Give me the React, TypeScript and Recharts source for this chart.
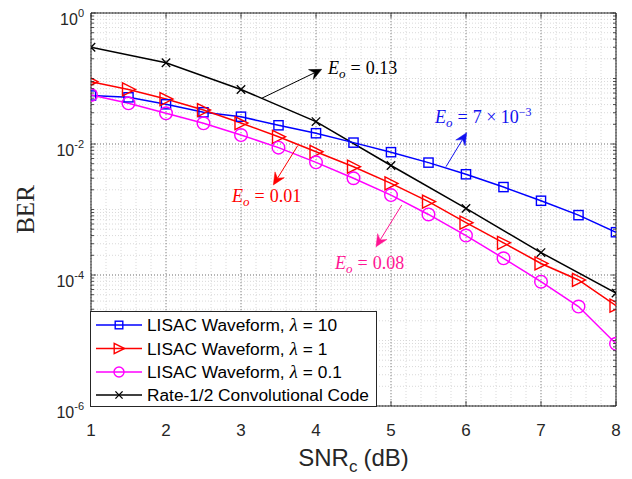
import React from 'react';
import {
  LineChart,
  Line,
  XAxis,
  YAxis,
  CartesianGrid,
  ReferenceLine,
  ReferenceDot,
  Legend,
  Label,
} from 'recharts';

// ---------------- data ----------------
const snr = [1, 1.5, 2, 2.5, 3, 3.5, 4, 4.5, 5, 5.5, 6, 6.5, 7, 7.5, 8];
const berLambda10 = [
  0.055, 0.0516, 0.0404, 0.0305, 0.0261, 0.0193, 0.0146, 0.0105, 0.0075, 0.0052,
  0.00345, 0.0022, 0.00136, 0.00082, 0.00045,
];
const berLambda1 = [
  0.0895, 0.068, 0.0486, 0.033, 0.0209, 0.0129, 0.0076, 0.0045, 0.0025, 0.00132,
  0.00063, 0.00031, 0.00015, 0.000084, 0.000034,
];
const berLambda01 = [
  0.056, 0.0418, 0.0294, 0.0207, 0.0137, 0.0088, 0.00525, 0.003, 0.00166, 0.00084,
  0.0004, 0.00018, 0.000079, 0.000033, 0.0000089,
];
const snrConv = [1, 2, 3, 4, 5, 6, 7, 8];
const berConv = [0.3, 0.174, 0.068, 0.022, 0.0047, 0.00104, 0.00022, 0.000053];

const xMajorTicks = [1, 2, 3, 4, 5, 6, 7, 8];
const yMajorTicks = [1e-6, 1e-4, 1e-2, 1];
const legendLambdas = ['10', '1', '0.1'];

// ---------------- layout constants ----------------
const W = 632;
const H = 479;
const PLOT_LEFT = 91;
const PLOT_RIGHT = 616;
const PLOT_TOP = 13;
const PLOT_BOTTOM = 406;
const AXIS = '#262626';
const BLUE = '#0000FF';
const RED = '#FF0000';
const MAGENTA = '#FF00FF';
const BLACK = '#000000';
const SANS = '"Liberation Sans", Arial, Helvetica, sans-serif';
const SERIF = '"Liberation Serif", "Times New Roman", serif';

// table for the chart
const table = snr.map((x, i) => {
  const ci = snrConv.indexOf(x);
  return {
    snr: x,
    l10: berLambda10[i],
    l1: berLambda1[i],
    l01: berLambda01[i],
    conv: ci >= 0 ? berConv[ci] : null,
  };
});

// ticks (major + minor)
const xTicks: number[] = [];
for (let i = 0; i <= 35; i++) xTicks.push(Math.round((1 + i * 0.2) * 10) / 10);
const yTicks: number[] = [];
for (let d = -6; d <= 0; d++) {
  yTicks.push(Number((10 ** d).toPrecision(3)));
  if (d < 0) for (let k = 2; k <= 9; k++) yTicks.push(Number((k * 10 ** d).toPrecision(3)));
}

// ---------------- markers ----------------
const Square = ({ cx, cy, s = 4.6, c = BLUE }: any) => (
  <rect x={cx - s} y={cy - s} width={2 * s} height={2 * s} fill="none" stroke={c} strokeWidth={1.4} />
);
const Tri = ({ cx, cy, s = 1, c = RED }: any) => (
  <polygon
    points={`${cx - 6 * s},${cy - 6.5 * s} ${cx + 7 * s},${cy} ${cx - 6 * s},${cy + 6.5 * s}`}
    fill="none"
    stroke={c}
    strokeWidth={1.4}
  />
);
const Circ = ({ cx, cy, r = 6.3, c = MAGENTA }: any) => (
  <circle cx={cx} cy={cy} r={r} fill="none" stroke={c} strokeWidth={1.4} />
);
const Cross = ({ cx, cy, s = 4.2, c = BLACK }: any) => (
  <g stroke={c} strokeWidth={1.3}>
    <line x1={cx - s} y1={cy - s} x2={cx + s} y2={cy + s} />
    <line x1={cx - s} y1={cy + s} x2={cx + s} y2={cy - s} />
  </g>
);

const makeDot = (Comp: any) => (p: any) => {
  if (p.value == null || p.cx == null || p.cy == null || isNaN(p.cy)) return <g key={`e-${p.index}`} />;
  return <Comp key={`d-${p.index}`} cx={p.cx} cy={p.cy} />;
};

// ---------------- axis ticks ----------------
const YTick = (props: any) => {
  const { x, y, payload } = props;
  const v = payload.value;
  const e = Math.log10(v);
  const re = Math.round(e);
  const decade = Math.abs(e - re) < 1e-6;
  const labelled = decade && re % 2 === 0;
  const len = labelled ? 5 : 3;
  return (
    <g>
      <line x1={PLOT_LEFT} x2={PLOT_LEFT + len} y1={y} y2={y} stroke={AXIS} strokeWidth={0.8} />
      <line x1={PLOT_RIGHT} x2={PLOT_RIGHT - len} y1={y} y2={y} stroke={AXIS} strokeWidth={0.8} />
      {labelled && (
        <text x={x - 7} y={y + 11.5} textAnchor="end" fontFamily={SANS} fontSize={16} fill={AXIS}>
          <tspan>10</tspan>
          <tspan dy={-7.5} fontSize={11}>{String(re)}</tspan>
        </text>
      )}
    </g>
  );
};

const XTick = (props: any) => {
  const { x, y, payload } = props;
  const v = payload.value;
  const major = Math.abs(v - Math.round(v)) < 1e-6;
  if (!major) return <g />;
  return (
    <g>
      <line x1={x} x2={x} y1={PLOT_BOTTOM} y2={PLOT_BOTTOM - 5} stroke={AXIS} strokeWidth={0.8} />
      <line x1={x} x2={x} y1={PLOT_TOP} y2={PLOT_TOP + 5} stroke={AXIS} strokeWidth={0.8} />
      <text x={x} y={y + 30} textAnchor="middle" fontFamily={SANS} fontSize={17} fill={AXIS}>
        {String(Math.round(v))}
      </text>
    </g>
  );
};

// ---------------- annotations ----------------
const arrowShape = (color: string) => (p: any) => {
  const { x1, y1, x2, y2 } = p;
  if ([x1, y1, x2, y2].some((v) => v == null || isNaN(v))) return <g />;
  const dx = x2 - x1;
  const dy = y2 - y1;
  const L = Math.sqrt(dx * dx + dy * dy) || 1;
  const ux = dx / L;
  const uy = dy / L;
  const nx = -uy;
  const ny = ux;
  const hl = 12;
  const hw = 5.5;
  const bx = x2 - ux * hl;
  const by = y2 - uy * hl;
  const mx = x2 - ux * 8;
  const my = y2 - uy * 8;
  return (
    <g>
      <line x1={x1} y1={y1} x2={mx} y2={my} stroke={color} strokeWidth={1} />
      <polygon
        points={`${x2},${y2} ${bx + nx * hw},${by + ny * hw} ${mx},${my} ${bx - nx * hw},${by - ny * hw}`}
        fill={color}
        stroke={color}
        strokeWidth={0.5}
      />
    </g>
  );
};

const eoText = (color: string, value: string, sup?: string) => (p: any) => {
  const { cx, cy } = p;
  if (cx == null || cy == null || isNaN(cy)) return <g />;
  return (
    <text x={cx} y={cy + 6} fontFamily={SERIF} fontSize={18} fill={color}>
      <tspan fontStyle="italic">E</tspan>
      <tspan fontStyle="italic" fontSize={13} dy={4}>o</tspan>
      <tspan dy={-4} dx={5}>=</tspan>
      <tspan dx={5}>{value}</tspan>
      {sup && (
        <tspan dy={-7} fontSize={12}>
          {sup}
        </tspan>
      )}
    </text>
  );
};

const annotations = [
  { color: BLACK, from: [3.276, 0.0499], to: [4.076, 0.138], text: [4.16, 0.145], value: '0.13' },
  { color: '#1010F0', from: [5.733, 0.0045], to: [6.009, 0.0149], text: [5.587, 0.0258], value: '7 × 10', sup: '−3' },
  { color: RED, from: [3.756, 0.00942], to: [3.431, 0.00237], text: [2.88, 0.00161], value: '0.01' },
  { color: '#FF1493', from: [5.143, 0.00117], to: [4.8, 0.00027], text: [4.253, 0.000152], value: '0.08' },
];

// ---------------- legend ----------------
const LegendBox = () => {
  const rows = [
    { c: BLUE, m: (cx: number, cy: number) => <Square cx={cx} cy={cy} s={3.8} /> },
    { c: RED, m: (cx: number, cy: number) => <Tri cx={cx} cy={cy} s={0.8} /> },
    { c: MAGENTA, m: (cx: number, cy: number) => <Circ cx={cx} cy={cy} r={5} /> },
    { c: BLACK, m: (cx: number, cy: number) => <Cross cx={cx} cy={cy} s={3.6} /> },
  ];
  const rowY = [14, 37.5, 61, 84];
  return (
    <svg width={287} height={96} style={{ display: 'block' }}>
      <rect x={0.5} y={0.5} width={286} height={95} fill="#fff" stroke={AXIS} strokeWidth={1} />
      {rows.map((r, i) => (
        <g key={i}>
          <line x1={6} x2={52} y1={rowY[i]} y2={rowY[i]} stroke={r.c} strokeWidth={1.5} />
          {r.m(29, rowY[i])}
          <text x={57} y={rowY[i] + 6.3} fontFamily={SANS} fontSize={17.3} fill="#000">
            {i < 3 ? (
              <>
                <tspan>LISAC Waveform,</tspan>
                <tspan dx={5} fontFamily={SERIF} fontStyle="italic" fontSize={18.5}>λ</tspan>
                <tspan dx={5}>=</tspan>
                <tspan dx={5}>{legendLambdas[i]}</tspan>
              </>
            ) : (
              <tspan>Rate-1/2 Convolutional Code</tspan>
            )}
          </text>
        </g>
      ))}
    </svg>
  );
};

// ---------------- axis labels ----------------
const YLabel = (p: any) => {
  const vb = p.viewBox || { x: 0, y: PLOT_TOP, width: PLOT_LEFT, height: PLOT_BOTTOM - PLOT_TOP };
  const cx = 25;
  const cy = vb.y + vb.height / 2;
  return (
    <text
      x={cx}
      y={cy}
      transform={`rotate(-90, ${cx}, ${cy})`}
      textAnchor="middle"
      dominantBaseline="central"
      fontFamily={SERIF}
      fontSize={25}
      fill={AXIS}
    >
      BER
    </text>
  );
};

const XLabel = (p: any) => {
  const vb = p.viewBox || { x: PLOT_LEFT, y: PLOT_BOTTOM, width: PLOT_RIGHT - PLOT_LEFT, height: 73 };
  const cx = vb.x + vb.width / 2;
  return (
    <text x={cx} y={466} textAnchor="middle" fontFamily={SANS} fontSize={24} fill={AXIS}>
      <tspan>SNR</tspan>
      <tspan fontSize={17} dy={6}>c</tspan>
      <tspan dy={-6} dx={6}>(dB)</tspan>
    </text>
  );
};

export default function App() {
  return (
    <div style={{ position: 'absolute', left: 0, top: 0, width: W, height: H, background: '#fff' }}>
      <LineChart
        width={W}
        height={H}
        data={table}
        margin={{ top: PLOT_TOP, right: W - PLOT_RIGHT, bottom: 0, left: 0 }}
      >
        <CartesianGrid stroke="#cfcfcf" strokeDasharray="1 2" strokeWidth={0.8} />
        {xMajorTicks.map((v) => (
          <ReferenceLine key={`gx${v}`} x={v} stroke="#666" strokeDasharray="1 2" strokeWidth={0.8} />
        ))}
        {yMajorTicks.map((v) => (
          <ReferenceLine key={`gy${v}`} y={v} stroke="#666" strokeDasharray="1 2" strokeWidth={0.8} />
        ))}
        <XAxis
          dataKey="snr"
          type="number"
          domain={[1, 8]}
          ticks={xTicks}
          interval={0}
          tickSize={0}
          tickMargin={0}
          tickLine={false}
          tick={<XTick />}
          height={H - PLOT_BOTTOM}
          axisLine={{ stroke: AXIS, strokeWidth: 1 }}
          allowDataOverflow
        >
          <Label content={<XLabel />} />
        </XAxis>
        <YAxis
          type="number"
          scale="log"
          domain={[1e-6, 1]}
          ticks={yTicks}
          interval={0}
          tickSize={0}
          tickMargin={0}
          tickLine={false}
          tick={<YTick />}
          width={PLOT_LEFT}
          axisLine={{ stroke: AXIS, strokeWidth: 1 }}
          allowDataOverflow
        >
          <Label content={<YLabel />} />
        </YAxis>
        <ReferenceLine y={1} stroke={AXIS} strokeWidth={1} />
        <ReferenceLine x={8} stroke={AXIS} strokeWidth={1} />

        <Line
          type="linear"
          dataKey="conv"
          stroke={BLACK}
          strokeWidth={1.5}
          connectNulls
          dot={makeDot(Cross)}
          activeDot={false}
          isAnimationActive={false}
        />
        <Line
          type="linear"
          dataKey="l10"
          stroke={BLUE}
          strokeWidth={1.5}
          dot={makeDot(Square)}
          activeDot={false}
          isAnimationActive={false}
        />
        <Line
          type="linear"
          dataKey="l1"
          stroke={RED}
          strokeWidth={1.5}
          dot={makeDot(Tri)}
          activeDot={false}
          isAnimationActive={false}
        />
        <Line
          type="linear"
          dataKey="l01"
          stroke={MAGENTA}
          strokeWidth={1.5}
          dot={makeDot(Circ)}
          activeDot={false}
          isAnimationActive={false}
        />

        {annotations.map((a, i) => (
          <ReferenceLine
            key={`ar${i}`}
            segment={[
              { x: a.from[0], y: a.from[1] },
              { x: a.to[0], y: a.to[1] },
            ]}
            ifOverflow="visible"
            shape={arrowShape(a.color)}
          />
        ))}
        {annotations.map((a, i) => (
          <ReferenceDot
            key={`tx${i}`}
            x={a.text[0]}
            y={a.text[1]}
            r={1}
            ifOverflow="visible"
            shape={eoText(a.color, a.value, a.sup)}
          />
        ))}

        <Legend
          layout="vertical"
          align="center"
          verticalAlign="middle"
          content={() => <LegendBox />}
          wrapperStyle={{ left: PLOT_LEFT - 1, top: 311, width: 287, height: 96 }}
        />
      </LineChart>
    </div>
  );
}
